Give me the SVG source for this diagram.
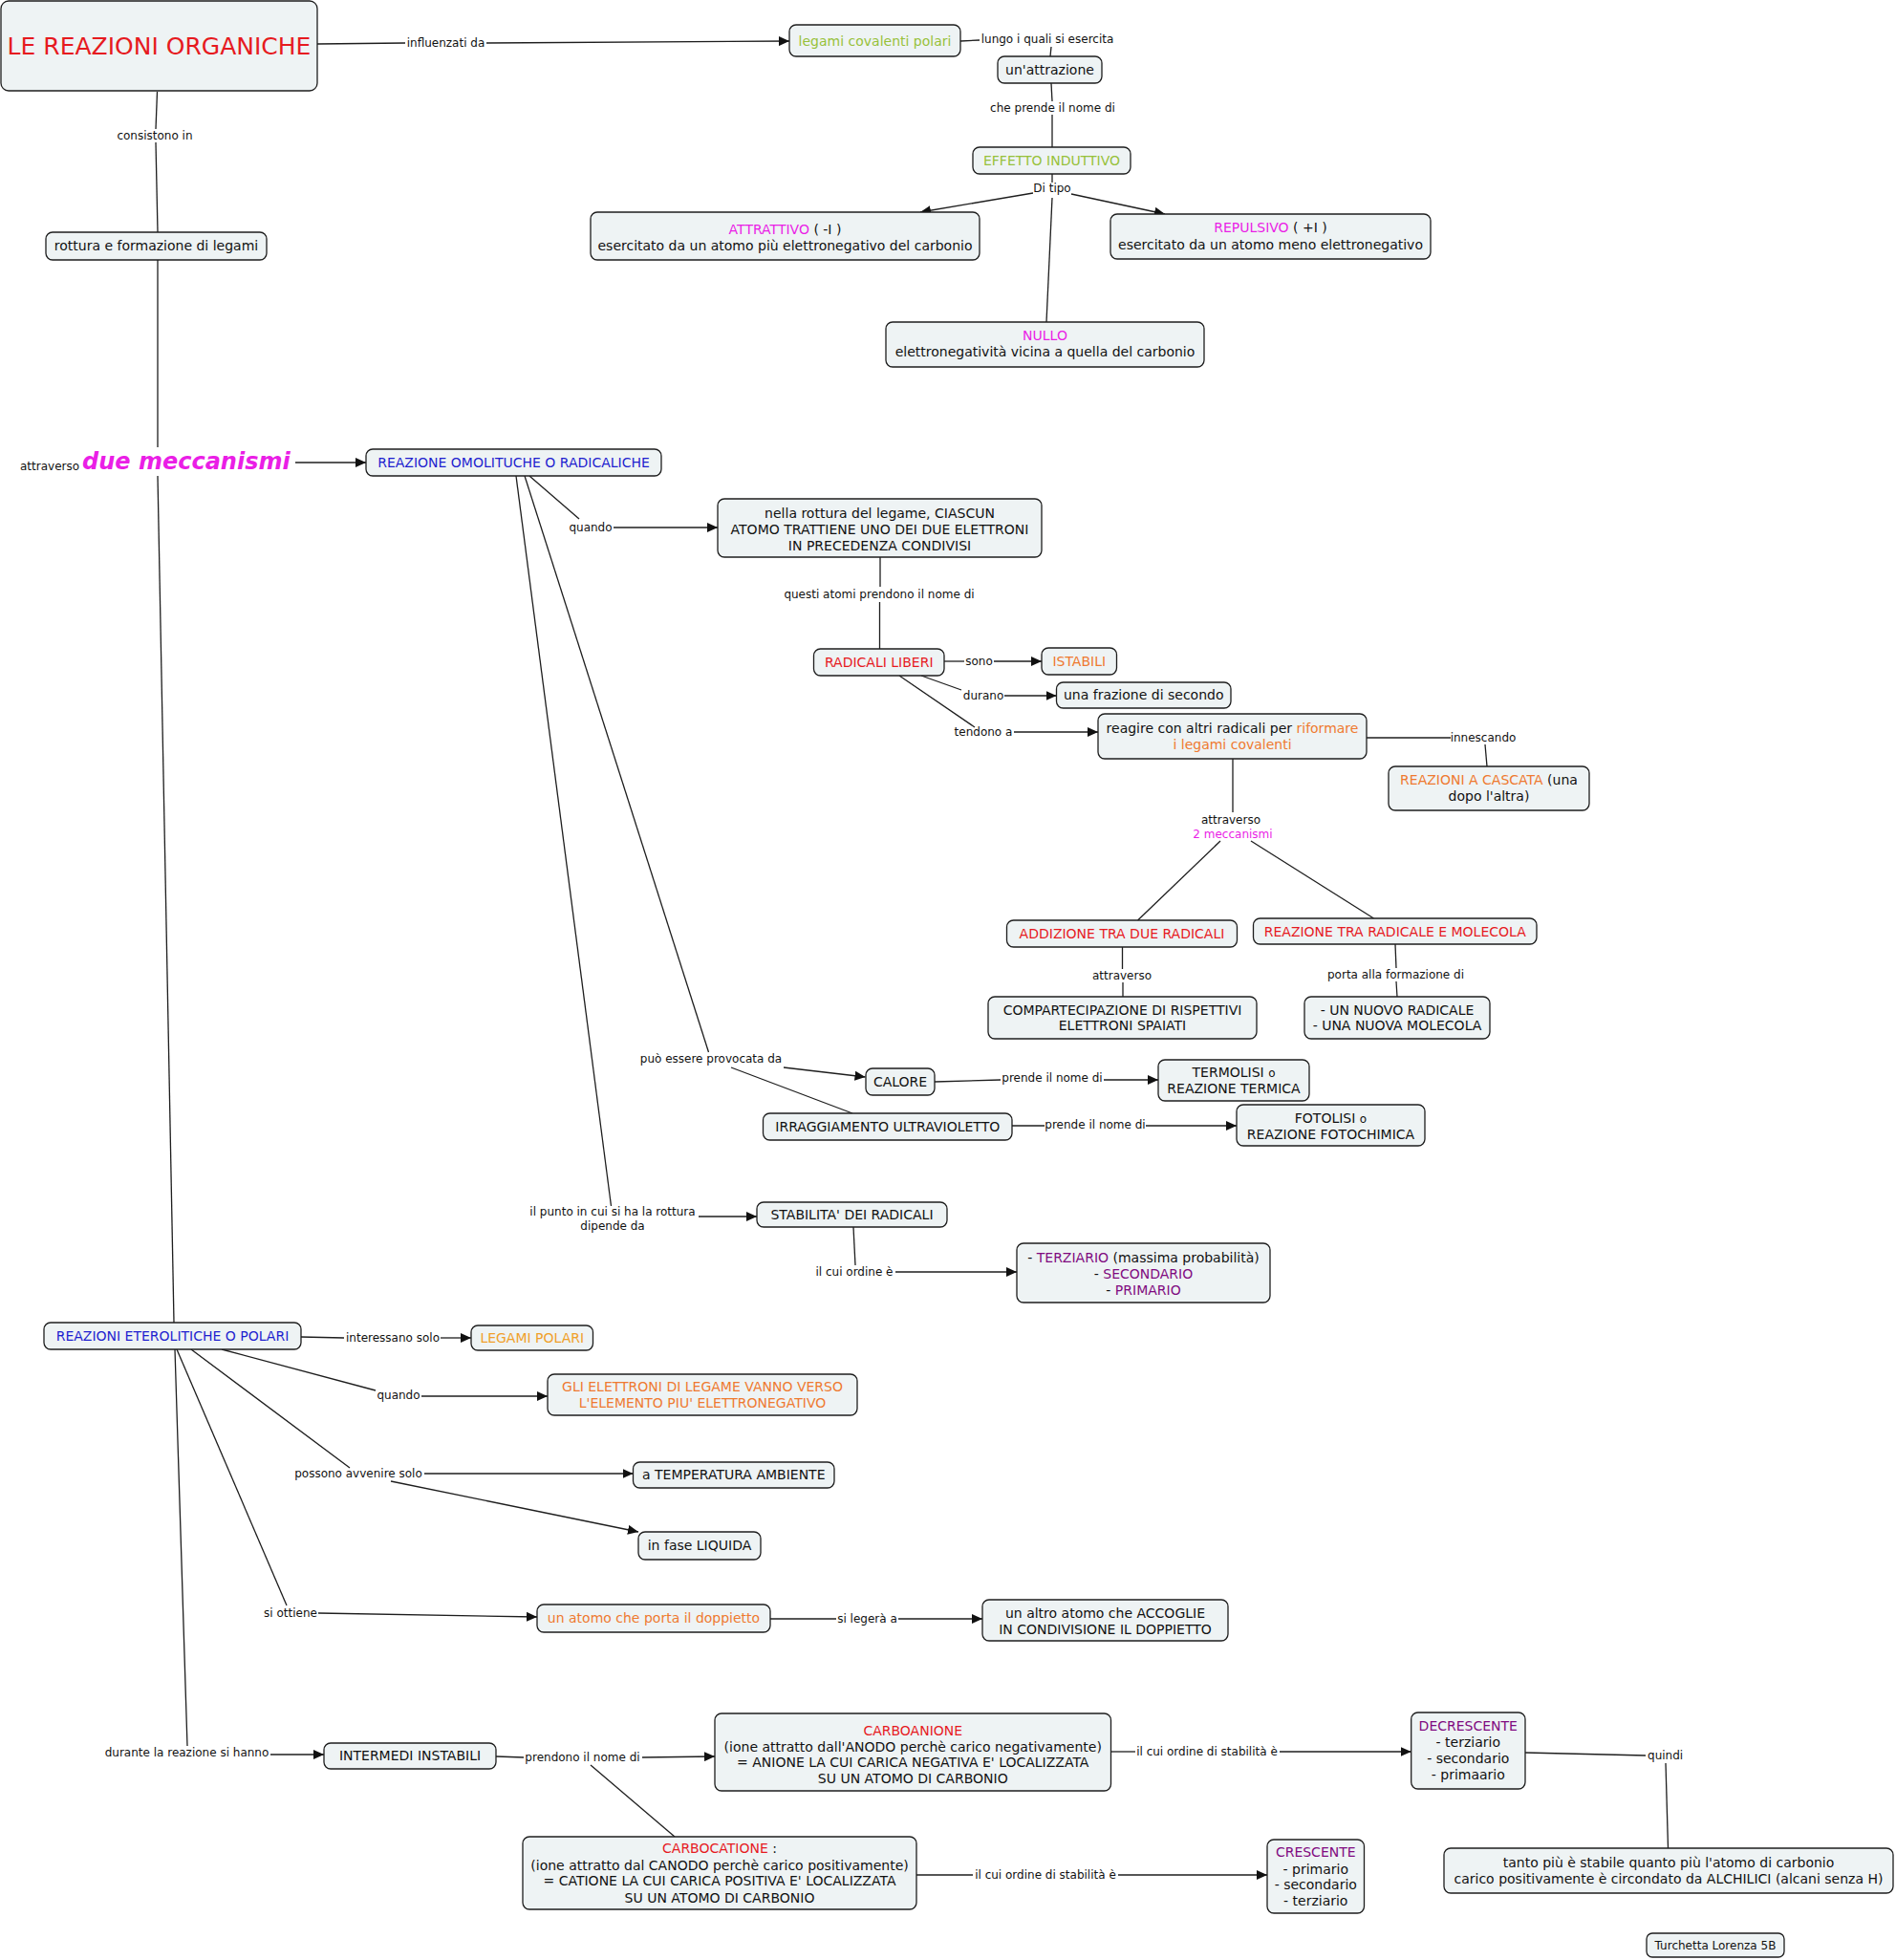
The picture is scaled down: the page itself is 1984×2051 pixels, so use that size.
<svg xmlns="http://www.w3.org/2000/svg" width="1984" height="2051" viewBox="0 0 1984 2051">
<style>
.n rect{fill:#eef3f4;stroke:#1e1e1e;stroke-width:1.3}
text{font-family:"DejaVu Sans",Verdana,"Liberation Sans",sans-serif;font-size:14px;fill:#111}
.c{text-anchor:middle}
.l{font-size:12px}
.red{fill:#e61a1f}
.grn{fill:#97c13a}
.mag{fill:#ea1ee6}
.blu{fill:#1f1fcf}
.org{fill:#ee7a30}
.lor{fill:#f0a02a}
.pur{fill:#800a80}
#conn line,#conn path{stroke:#1e1e1e;stroke-width:1.3;fill:none}
#conn .a{marker-end:url(#ah)}
</style>
<defs>
<marker id="ah" markerUnits="userSpaceOnUse" markerWidth="11" markerHeight="10" refX="11" refY="5" orient="auto"><path d="M0,0 L11,5 L0,10 z" fill="#111"/></marker>
</defs>
<rect width="1984" height="2051" fill="#ffffff"/>
<g id="conn">
<line x1="332" y1="46" x2="424" y2="45"/>
<line class="a" x1="509" y1="45" x2="826" y2="43"/>
<line x1="1005" y1="43" x2="1025" y2="42"/>
<line x1="1100" y1="49" x2="1099" y2="59"/>
<line x1="1100" y1="87" x2="1101" y2="106"/>
<line x1="1101" y1="120" x2="1101" y2="154"/>
<line x1="1101" y1="182" x2="1101" y2="191"/>
<line class="a" x1="1081" y1="202" x2="963" y2="222"/>
<line class="a" x1="1121" y1="203" x2="1219" y2="224"/>
<line x1="1101" y1="207" x2="1095" y2="337"/>
<line x1="164.5" y1="96" x2="163" y2="135"/>
<line x1="163" y1="149" x2="165" y2="243"/>
<line x1="165" y1="272" x2="165" y2="468"/>
<line x1="165" y1="498" x2="182" y2="1384"/>
<line class="a" x1="309" y1="484" x2="383" y2="484"/>
<line x1="554" y1="498" x2="606" y2="543"/>
<line class="a" x1="642" y1="552" x2="751" y2="552"/>
<line x1="921" y1="583" x2="921" y2="614"/>
<line x1="920.5" y1="630" x2="920.5" y2="679"/>
<line x1="988" y1="692" x2="1009" y2="692"/>
<line class="a" x1="1040" y1="692" x2="1090" y2="692"/>
<line x1="964" y1="707" x2="1006" y2="722"/>
<line class="a" x1="1051" y1="728" x2="1105.5" y2="728"/>
<line x1="941" y1="707" x2="1020" y2="761"/>
<line class="a" x1="1061" y1="766" x2="1149" y2="766"/>
<line x1="1430" y1="772" x2="1518" y2="772"/>
<line x1="1554" y1="779" x2="1556" y2="802"/>
<line x1="1290" y1="794" x2="1290" y2="850"/>
<line x1="1277" y1="880" x2="1190.6" y2="963"/>
<line x1="1309" y1="880" x2="1437.5" y2="961"/>
<line x1="1174.5" y1="991" x2="1174.5" y2="1014"/>
<line x1="1175" y1="1028" x2="1175" y2="1043"/>
<line x1="1460" y1="988" x2="1461" y2="1013"/>
<line x1="1461" y1="1027" x2="1462" y2="1043"/>
<line x1="549" y1="498" x2="741.5" y2="1101"/>
<line class="a" x1="820" y1="1117" x2="905.5" y2="1127"/>
<line x1="765" y1="1117" x2="892" y2="1165"/>
<line x1="978" y1="1132" x2="1047" y2="1130"/>
<line class="a" x1="1155" y1="1130" x2="1212" y2="1130"/>
<line x1="1059" y1="1178" x2="1093" y2="1178"/>
<line class="a" x1="1199" y1="1178" x2="1294" y2="1178"/>
<line x1="540" y1="498" x2="639.5" y2="1262"/>
<line class="a" x1="731" y1="1273" x2="792" y2="1273"/>
<line x1="893" y1="1284" x2="895" y2="1324"/>
<line class="a" x1="937" y1="1331" x2="1064" y2="1331"/>
<line x1="315" y1="1399" x2="360" y2="1400"/>
<line class="a" x1="461" y1="1400" x2="493" y2="1400"/>
<line x1="232" y1="1412" x2="393" y2="1455"/>
<line class="a" x1="441" y1="1461" x2="573" y2="1461"/>
<line x1="200" y1="1412" x2="366" y2="1536"/>
<line class="a" x1="444" y1="1542" x2="662.5" y2="1542"/>
<line class="a" x1="409" y1="1550" x2="668" y2="1603"/>
<line x1="185" y1="1412" x2="300" y2="1680"/>
<line class="a" x1="333" y1="1688" x2="562" y2="1692"/>
<line x1="806" y1="1694" x2="875" y2="1694"/>
<line class="a" x1="940" y1="1694" x2="1028" y2="1694"/>
<line x1="183" y1="1412" x2="196" y2="1827"/>
<line class="a" x1="283" y1="1836" x2="339" y2="1836"/>
<line x1="519" y1="1838" x2="548" y2="1839"/>
<line class="a" x1="672" y1="1839" x2="748" y2="1838"/>
<line x1="618" y1="1847" x2="706" y2="1922"/>
<line x1="1162.5" y1="1833" x2="1188" y2="1833"/>
<line class="a" x1="1339" y1="1833" x2="1476.7" y2="1833"/>
<line x1="1596" y1="1834" x2="1722" y2="1837"/>
<line x1="1743" y1="1845" x2="1745.5" y2="1934"/>
<line x1="959" y1="1962" x2="1018" y2="1962"/>
<line class="a" x1="1170" y1="1962" x2="1326" y2="1962"/>
</g>
<g id="labels">
<text class="l c" x="466.5" y="49">influenzati da</text>
<text class="l c" x="1096" y="45">lungo i quali si esercita</text>
<text class="l c" x="1101.5" y="117">che prende il nome di</text>
<text class="l c" x="1101" y="201">Di tipo</text>
<text class="l c" x="162" y="146">consistono in</text>
<text x="21" y="492"><tspan class="l">attraverso</tspan><tspan x="86" y="491" style="font-size:24px;font-weight:bold;font-style:italic" class="mag">due meccanismi</tspan></text>
<text class="l c" x="618" y="556">quando</text>
<text class="l c" x="920" y="626">questi atomi prendono il nome di</text>
<text class="l c" x="1024.5" y="696">sono</text>
<text class="l c" x="1029" y="732">durano</text>
<text class="l c" x="1029" y="770">tendono a</text>
<text class="l c" x="1552" y="776">innescando</text>
<text class="l c" x="1288" y="862">attraverso</text>
<text class="l c mag" x="1290" y="877">2 meccanismi</text>
<text class="l c" x="1174" y="1025">attraverso</text>
<text class="l c" x="1460.5" y="1024">porta alla formazione di</text>
<text class="l c" x="744" y="1112">può essere provocata da</text>
<text class="l c" x="1101" y="1132">prende il nome di</text>
<text class="l c" x="1146" y="1181">prende il nome di</text>
<text class="l c" x="641" y="1272">il punto in cui si ha la rottura</text>
<text class="l c" x="641" y="1287">dipende da</text>
<text class="l c" x="894" y="1335">il cui ordine è</text>
<text class="l c" x="411" y="1404">interessano solo</text>
<text class="l c" x="417" y="1464">quando</text>
<text class="l c" x="375" y="1546">possono avvenire solo</text>
<text class="l c" x="304" y="1692">si ottiene</text>
<text class="l c" x="907.5" y="1698">si legerà a</text>
<text class="l c" x="195.5" y="1838">durante la reazione si hanno</text>
<text class="l c" x="609.5" y="1843">prendono il nome di</text>
<text class="l c" x="1263" y="1837">il cui ordine di stabilità è</text>
<text class="l c" x="1742.6" y="1841">quindi</text>
<text class="l c" x="1094" y="1966">il cui ordine di stabilità è</text>
</g>
<g id="n1" class="n"><rect x="1" y="1" width="331" height="94" rx="8"/><text class="c red" x="166.5" y="57" style="font-size:25px">LE REAZIONI ORGANICHE</text></g>
<g id="n2" class="n"><rect x="826" y="26" width="179" height="33" rx="7"/><text class="c grn" x="915.5" y="48">legami covalenti polari</text></g>
<g id="n3" class="n"><rect x="1044" y="59" width="109" height="28" rx="7"/><text class="c" x="1098.5" y="78">un'attrazione</text></g>
<g id="n4" class="n"><rect x="1018" y="154" width="165" height="28" rx="7"/><text class="c grn" x="1100.5" y="173">EFFETTO INDUTTIVO</text></g>
<g id="n5" class="n"><rect x="618" y="222" width="407" height="50" rx="7"/><text class="c" x="821.5" y="245"><tspan class="mag">ATTRATTIVO</tspan> ( -I )</text><text class="c" x="821.5" y="262">esercitato da un atomo più elettronegativo del carbonio</text></g>
<g id="n6" class="n"><rect x="1162" y="224" width="335" height="47" rx="7"/><text class="c" x="1329.5" y="243"><tspan class="mag">REPULSIVO</tspan> ( +I )</text><text class="c" x="1329.5" y="261">esercitato da un atomo meno elettronegativo</text></g>
<g id="n7" class="n"><rect x="927" y="337" width="333" height="47" rx="7"/><text class="c mag" x="1093.5" y="356">NULLO</text><text class="c" x="1093.5" y="373">elettronegatività vicina a quella del carbonio</text></g>
<g id="n8" class="n"><rect x="48" y="243" width="231" height="29" rx="7"/><text class="c" x="163.5" y="262">rottura e formazione di legami</text></g>
<g id="n9" class="n"><rect x="383" y="470" width="309" height="28" rx="7"/><text class="c blu" x="537.5" y="489">REAZIONE OMOLITUCHE O RADICALICHE</text></g>
<g id="n10" class="n"><rect x="751" y="522" width="339" height="61" rx="7"/><text class="c" x="920.5" y="541.5">nella rottura del legame, CIASCUN</text><text class="c" x="920.5" y="558.5">ATOMO TRATTIENE UNO DEI DUE ELETTRONI</text><text class="c" x="920.5" y="575.5">IN PRECEDENZA CONDIVISI</text></g>
<g id="n11" class="n"><rect x="851.5" y="679" width="136.5" height="28" rx="7"/><text class="c red" x="919.75" y="698">RADICALI LIBERI</text></g>
<g id="n12" class="n"><rect x="1090" y="678" width="78.5" height="28" rx="7"/><text class="c org" x="1129.25" y="697">ISTABILI</text></g>
<g id="n13" class="n"><rect x="1105.5" y="714" width="182.5" height="27" rx="7"/><text class="c" x="1196.75" y="732">una frazione di secondo</text></g>
<g id="n14" class="n"><rect x="1149" y="747" width="281" height="47" rx="7"/><text class="c" x="1289.5" y="767">reagire con altri radicali per <tspan class="org">riformare</tspan></text><text class="c org" x="1289.5" y="784">i legami covalenti</text></g>
<g id="n15" class="n"><rect x="1453" y="802" width="210" height="46" rx="7"/><text class="c" x="1558" y="821"><tspan class="org">REAZIONI A CASCATA</tspan> (una</text><text class="c" x="1558" y="838">dopo l'altra)</text></g>
<g id="n16" class="n"><rect x="1053.5" y="963" width="241" height="28" rx="7"/><text class="c red" x="1174" y="982">ADDIZIONE TRA DUE RADICALI</text></g>
<g id="n17" class="n"><rect x="1311.5" y="961" width="296.5" height="27" rx="7"/><text class="c red" x="1459.75" y="980">REAZIONE TRA RADICALE E MOLECOLA</text></g>
<g id="n18" class="n"><rect x="1034" y="1043" width="281" height="44" rx="7"/><text class="c" x="1174.5" y="1062">COMPARTECIPAZIONE DI RISPETTIVI</text><text class="c" x="1174.5" y="1078">ELETTRONI SPAIATI</text></g>
<g id="n19" class="n"><rect x="1365" y="1043" width="194" height="44" rx="7"/><text class="c" x="1462" y="1062">- UN NUOVO RADICALE</text><text class="c" x="1462" y="1078">- UNA NUOVA MOLECOLA</text></g>
<g id="n20" class="n"><rect x="906" y="1118" width="72" height="28" rx="7"/><text class="c" x="942" y="1137">CALORE</text></g>
<g id="n21" class="n"><rect x="1212" y="1109" width="158" height="43" rx="7"/><text class="c" x="1291" y="1127">TERMOLISI <tspan style="font-size:12px">o</tspan></text><text class="c" x="1291" y="1144">REAZIONE TERMICA</text></g>
<g id="n22" class="n"><rect x="798.5" y="1165" width="260.5" height="28" rx="7"/><text class="c" x="928.75" y="1184">IRRAGGIAMENTO ULTRAVIOLETTO</text></g>
<g id="n23" class="n"><rect x="1294" y="1156" width="197" height="43" rx="7"/><text class="c" x="1392.5" y="1175">FOTOLISI <tspan style="font-size:12px">o</tspan></text><text class="c" x="1392.5" y="1191.5">REAZIONE FOTOCHIMICA</text></g>
<g id="n24" class="n"><rect x="792" y="1258" width="199" height="26" rx="7"/><text class="c" x="891.5" y="1276">STABILITA' DEI RADICALI</text></g>
<g id="n25" class="n"><rect x="1064" y="1301" width="265" height="62" rx="7"/><text class="c" x="1196.5" y="1321">- <tspan class="pur">TERZIARIO</tspan> (massima probabilità)</text><text class="c" x="1196.5" y="1338">- <tspan class="pur">SECONDARIO</tspan></text><text class="c" x="1196.5" y="1355">- <tspan class="pur">PRIMARIO</tspan></text></g>
<g id="n26" class="n"><rect x="46" y="1384" width="269" height="28" rx="7"/><text class="c blu" x="180.5" y="1403">REAZIONI ETEROLITICHE O POLARI</text></g>
<g id="n27" class="n"><rect x="493" y="1387" width="127.5" height="26" rx="7"/><text class="c lor" x="556.75" y="1405">LEGAMI POLARI</text></g>
<g id="n28" class="n"><rect x="573" y="1438" width="324" height="43" rx="7"/><text class="c org" x="735" y="1456">GLI ELETTRONI DI LEGAME VANNO VERSO</text><text class="c org" x="735" y="1473">L'ELEMENTO PIU' ELETTRONEGATIVO</text></g>
<g id="n29" class="n"><rect x="662.5" y="1530" width="210.5" height="27" rx="7"/><text class="c" x="767.75" y="1548">a TEMPERATURA AMBIENTE</text></g>
<g id="n30" class="n"><rect x="668" y="1603" width="128" height="29" rx="7"/><text class="c" x="732" y="1622">in fase LIQUIDA</text></g>
<g id="n31" class="n"><rect x="562" y="1679" width="244" height="29" rx="7"/><text class="c org" x="684" y="1698">un atomo che porta il doppietto</text></g>
<g id="n32" class="n"><rect x="1028" y="1674" width="257" height="43" rx="7"/><text class="c" x="1156.5" y="1693">un altro atomo che ACCOGLIE</text><text class="c" x="1156.5" y="1710">IN CONDIVISIONE IL DOPPIETTO</text></g>
<g id="n33" class="n"><rect x="339" y="1824" width="180" height="27" rx="7"/><text class="c" x="429" y="1842">INTERMEDI INSTABILI</text></g>
<g id="n34" class="n"><rect x="748" y="1793" width="414.5" height="81" rx="7"/><text class="c red" x="955.25" y="1816">CARBOANIONE</text><text class="c" x="955.25" y="1833">(ione attratto dall'ANODO perchè carico negativamente)</text><text class="c" x="955.25" y="1849">= ANIONE LA CUI CARICA NEGATIVA E' LOCALIZZATA</text><text class="c" x="955.25" y="1866">SU UN ATOMO DI CARBONIO</text></g>
<g id="n35" class="n"><rect x="1476.7" y="1792" width="119.3" height="80" rx="7"/><text class="c pur" x="1536.3" y="1811">DECRESCENTE</text><text class="c" x="1536.3" y="1828">- terziario</text><text class="c" x="1536.3" y="1845">- secondario</text><text class="c" x="1536.3" y="1862">- primaario</text></g>
<g id="n36" class="n"><rect x="1511" y="1934" width="470" height="47" rx="7"/><text class="c" x="1746" y="1954">tanto più è stabile quanto più l'atomo di carbonio</text><text class="c" x="1746" y="1971">carico positivamente è circondato da ALCHILICI (alcani senza H)</text></g>
<g id="n37" class="n"><rect x="547" y="1922" width="412" height="76" rx="7"/><text class="c" x="753" y="1939"><tspan class="red">CARBOCATIONE</tspan> :</text><text class="c" x="753" y="1956.5">(ione attratto dal CANODO perchè carico positivamente)</text><text class="c" x="753" y="1973">= CATIONE LA CUI CARICA POSITIVA E' LOCALIZZATA</text><text class="c" x="753" y="1990.5">SU UN ATOMO DI CARBONIO</text></g>
<g id="n38" class="n"><rect x="1326" y="1925" width="101.5" height="77" rx="7"/><text class="c pur" x="1376.75" y="1943">CRESCENTE</text><text class="c" x="1376.75" y="1961">- primario</text><text class="c" x="1376.75" y="1977">- secondario</text><text class="c" x="1376.75" y="1994">- terziario</text></g>
<g id="n39" class="n"><rect x="1723" y="2023" width="144" height="25" rx="6"/><text class="c l" x="1795" y="2040">Turchetta Lorenza 5B</text></g>
</svg>
